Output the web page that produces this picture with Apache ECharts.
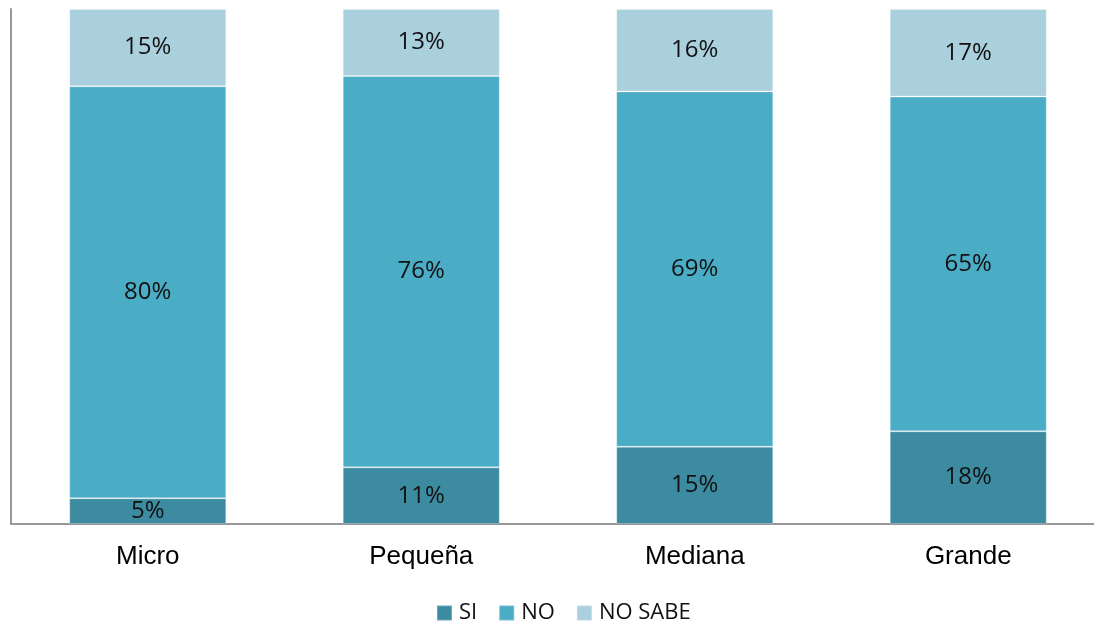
<!DOCTYPE html>
<html>
<head>
<meta charset="utf-8">
<script src="https://cdn.jsdelivr.net/npm/echarts@6/dist/echarts.min.js"></script>
<style>
  html, body { margin: 0; padding: 0; background: #fff; }
  #chart { width: 1094px; height: 622px; }
</style>
</head>
<body>
<div id="chart"></div>
<script>
const categories = ['Micro', 'Pequeña', 'Mediana', 'Grande'];
const si = [5, 11, 15, 18];
const no = [80, 76, 69, 65];
const noSabe = [15, 13, 16, 17];

const colors = { si: '#3d8ba0', no: '#4bacc6', noSabe: '#aacfdd' };

const chart = echarts.init(document.getElementById('chart'));

const label = {
  show: true,
  position: 'inside',
  color: '#111',
  fontFamily: 'Open Sans',
  fontSize: 24,
  formatter: p => p.value + '%'
};

function bar(name, data, color) {
  return {
    name,
    type: 'bar',
    stack: 'total',
    barWidth: 157,
    data,
    itemStyle: { color, borderColor: 'rgba(255,255,255,0.25)', borderWidth: 1 },
    label
  };
}

chart.setOption({
  animation: false,
  grid: { left: 11, top: 9, right: -11, bottom: 98, outerBoundsMode: 'none' },
  legend: {
    top: 602,
    left: 436,
    padding: 0,
    itemWidth: 15,
    itemHeight: 15,
    itemGap: 21,
    icon: 'rect',
    textStyle: { fontFamily: 'Open Sans', fontSize: 22, color: '#111', padding: [0, 0, 0, 2] },
    data: ['SI', 'NO', 'NO SABE']
  },
  xAxis: {
    type: 'category',
    data: categories,
    axisLine: { lineStyle: { color: '#999', width: 2 } },
    axisTick: { show: false },
    axisLabel: { fontFamily: 'Liberation Sans', fontSize: 26, color: '#000', margin: 20 }
  },
  yAxis: {
    type: 'value',
    min: 0,
    max: 100,
    axisLine: { show: true, lineStyle: { color: '#999', width: 2 } },
    axisTick: { show: false },
    axisLabel: { show: false },
    splitLine: { show: false }
  },
  series: [
    bar('SI', si, colors.si),
    bar('NO', no, colors.no),
    bar('NO SABE', noSabe, colors.noSabe)
  ]
});
</script>
</body>
</html>
